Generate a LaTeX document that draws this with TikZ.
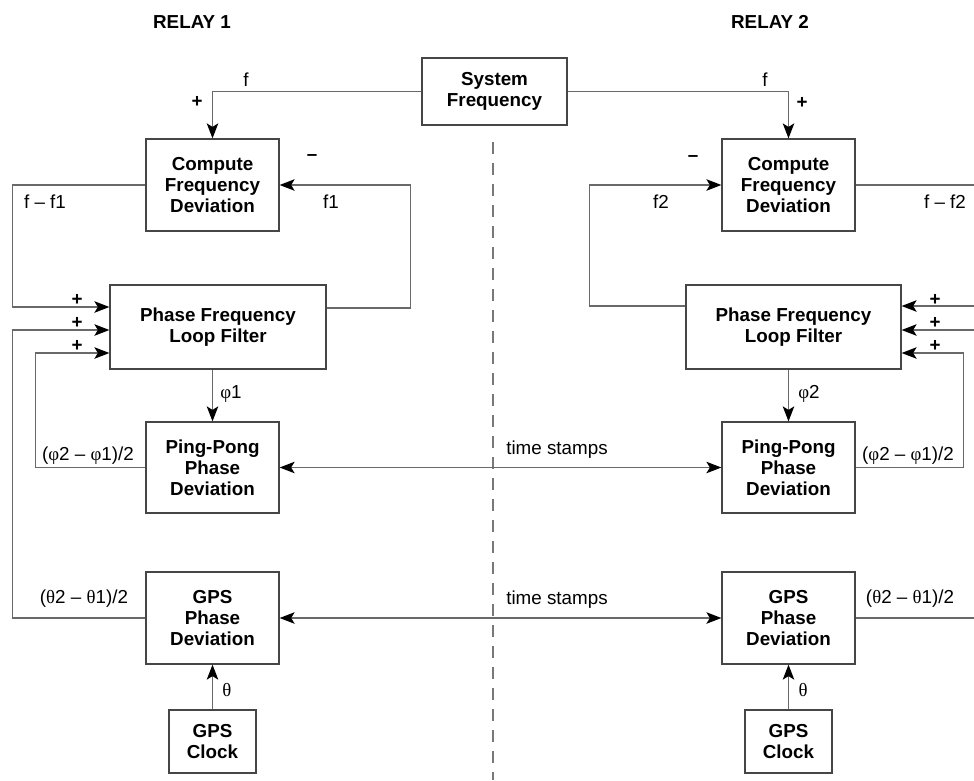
\documentclass[tikz,border=0pt]{standalone}
\usepackage{fontspec}
\setmainfont{Liberation Sans}
\newfontfamily\greekfont{Liberation Serif}
\usepackage{tikz}
\usetikzlibrary{arrows.meta,positioning,calc}
\definecolor{boxgray}{RGB}{70, 70, 70}
\definecolor{wiregray}{RGB}{105, 105, 105}
\definecolor{cutgray}{RGB}{120, 120, 120}
\newcommand{\gphi}{{\greekfont φ}}
\newcommand{\gtheta}{{\greekfont θ}}

\begin{document}
\begin{tikzpicture}[x=0.2mm, y=-0.2mm,
  font=\fontsize{10.7}{12}\selectfont,
  block/.style={draw=boxgray, line width=0.7pt, align=center, inner sep=1pt,
    font=\fontsize{10.7}{12}\selectfont\bfseries},
  wire/.style={wiregray, line width=0.8pt},
  tip/.style={-{Stealth[length=3mm,width=2.3mm,inset=0.7mm,black]}},
  tips/.style={{Stealth[length=3mm,width=2.3mm,inset=0.7mm,black]}-{Stealth[length=3mm,width=2.3mm,inset=0.7mm,black]}},
  lbl/.style={inner sep=0pt},
  sign/.style={inner sep=0pt, font=\fontsize{10.7}{12}\selectfont\bfseries}]
\useasboundingbox (0,0) rectangle (974,780);
\clip (0,0) rectangle (974,780);
% Titles
\node[sign] (relay1) at (192,22) {RELAY 1};
\node[sign] (relay2) at (770,22) {RELAY 2};
% Divider between the relays
\draw[cutgray, line width=0.8pt, dash pattern=on 2.4mm off 1.8mm] (493,142) -- (493,780);
% Shared block
\node[block, minimum width=29mm, minimum height=13.4mm] (sys) at (494.5,91.5) {System\\Frequency};
% Relay 1 blocks
\node[block, minimum width=26.6mm, minimum height=18.4mm] (cfd1) at (212.5,185) {Compute\\Frequency\\Deviation};
\node[block, minimum width=43.2mm, minimum height=16.8mm] (pflf1) at (218,327) {Phase Frequency\\Loop Filter};
\node[block, minimum width=26.6mm, minimum height=18.2mm] (pp1) at (212.5,467.5) {Ping-Pong\\Phase\\Deviation};
\node[block, minimum width=26.6mm, minimum height=18.4mm] (gps1) at (212.5,618) {GPS\\Phase\\Deviation};
\node[block, minimum width=17.4mm, minimum height=12.6mm] (clk1) at (212.5,741.5) {GPS\\Clock};
% Relay 2 blocks
\node[block, minimum width=26.6mm, minimum height=18.4mm] (cfd2) at (788.5,185) {Compute\\Frequency\\Deviation};
\node[block, minimum width=43mm, minimum height=16.8mm] (pflf2) at (793.5,327) {Phase Frequency\\Loop Filter};
\node[block, minimum width=26.6mm, minimum height=18.2mm] (pp2) at (788.5,467.5) {Ping-Pong\\Phase\\Deviation};
\node[block, minimum width=26.6mm, minimum height=18.4mm] (gps2) at (788.5,618) {GPS\\Phase\\Deviation};
\node[block, minimum width=17.4mm, minimum height=12.6mm] (clk2) at (788.5,741.5) {GPS\\Clock};
% System frequency feeds
\draw[wire, tip] (sys.west) -| (cfd1.north);
\draw[wire, tip] (sys.east) -| (cfd2.north);
% Relay 1 loops
\draw[wire, tip] (cfd1.west) -- ++(-133,0) |- ($(pflf1.west)+(0,-20)$);
\draw[wire, tip] ($(pflf1.east)+(0,-19)$) -- ++(84,0) |- (cfd1.east);
\draw[wire, tip] (gps1.west) -- ++(-133,0) |- ($(pflf1.west)+(0,3)$);
\draw[wire, tip] (pp1.west) -- ++(-110,0) |- ($(pflf1.west)+(0,26)$);
\draw[wire, tip] (pflf1.south -| pp1.north) -- (pp1.north);
\draw[wire, tip] (clk1.north) -- (gps1.south);
% Relay 2 loops
\draw[wire, tip] (cfd2.east) -- ++(133,0) |- ($(pflf2.east)+(0,-21)$);
\draw[wire, tip] ($(pflf2.west)+(0,-21)$) -- ++(-96,0) |- (cfd2.west);
\draw[wire, tip] (gps2.east) -- ++(133,0) |- ($(pflf2.east)+(0,3)$);
\draw[wire, tip] (pp2.east) -- ++(108,0) |- ($(pflf2.east)+(0,26)$);
\draw[wire, tip] (pflf2.south -| pp2.north) -- (pp2.north);
\draw[wire, tip] (clk2.north) -- (gps2.south);
% Time stamps between relays
\draw[wire, tips] (pp1.east) -- (pp2.west);
\draw[wire, tips] (gps1.east) -- (gps2.west);
% Labels, relay 1
\node[lbl] (fa) at (246,80) {f};
\node[sign] (pa) at (197,102) {+};
\node[sign] (ma) at (312,158) {–};
\node[lbl] (dfa) at (45,202) {f – f1};
\node[lbl] (f1) at (331,202) {f1};
\node[sign] (pa1) at (77,300) {+};
\node[sign] (pa2) at (77,323) {+};
\node[sign] (pa3) at (77,346) {+};
\node[lbl] (phi1) at (231,394) {\gphi1};
\node[lbl] (ppa) at (88,456) {(\gphi2 – \gphi1)/2};
\node[lbl] (gpa) at (84,599) {(\gtheta2 – \gtheta1)/2};
\node[lbl] (tha) at (227,690) {\gtheta};
% Labels, relay 2
\node[lbl] (fb) at (765,80) {f};
\node[sign] (pb) at (802,103) {+};
\node[sign] (mb) at (693,159) {–};
\node[lbl] (dfb) at (945,202) {f – f2};
\node[lbl] (f2) at (661,202) {f2};
\node[sign] (pb1) at (935,300) {+};
\node[sign] (pb2) at (935,323) {+};
\node[sign] (pb3) at (935,346) {+};
\node[lbl] (phi2) at (809,394) {\gphi2};
\node[lbl] (ppb) at (908,456) {(\gphi2 – \gphi1)/2};
\node[lbl] (gpb) at (910,599) {(\gtheta2 – \gtheta1)/2};
\node[lbl] (thb) at (803,690) {\gtheta};
% Time stamp labels
\node[lbl] (ts1) at (557,450) {time stamps};
\node[lbl] (ts2) at (557,600) {time stamps};
\end{tikzpicture}
\end{document}
